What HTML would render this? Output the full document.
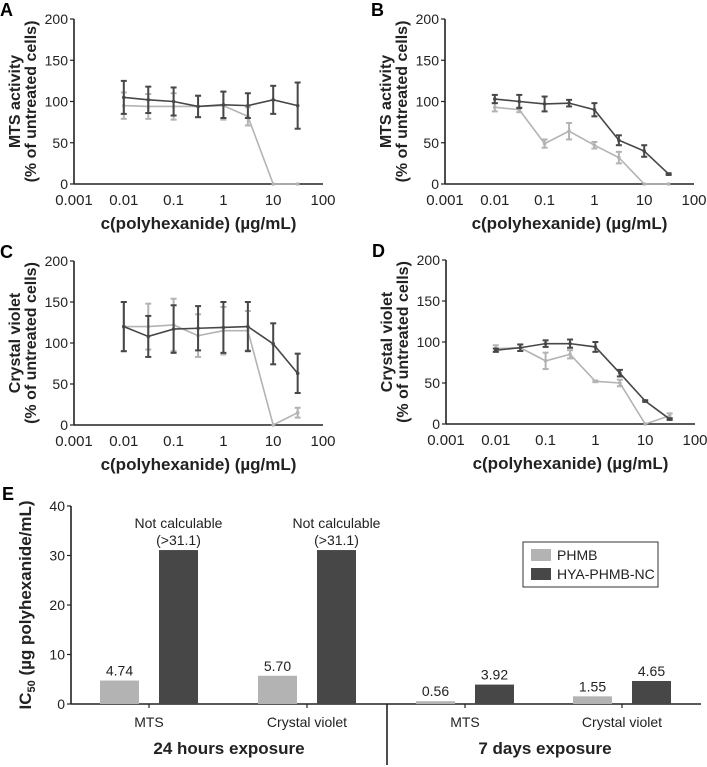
<!DOCTYPE html>
<html><head><meta charset="utf-8"><style>
body{margin:0;background:#fff}
svg{display:block;font-family:"Liberation Sans",Arial,sans-serif}
</style></head><body>
<svg id="fig" width="707" height="767" viewBox="0 0 707 767"></svg>
<script>
const xVals=[0.01,0.031,0.1,0.31,1,3.1,10,31];
const aDark=[105,102,100,94,96,95,102,95];
const aDarkErr=[20,16,17,13,16,15,17,28];
const aLight=[95,94,94,94,95,82,0,0];
const aLightErr=[16,15,16,13,17,11,0,0];
const bDark=[103,100,97,98,90,53,40,12];
const bDarkErr=[5,8,9,4,8,6,7,1];
const bLight=[93,90,49,64,47,32,0,0];
const bLightErr=[5,3,5,10,4,7,0,0];
const cDark=[120,108,117,118,119,120,99,63];
const cDarkErr=[30,25,29,27,31,30,25,24];
const cLight=[120,120,122,109,115,115,0,15];
const cLightErr=[30,28,32,26,29,24,0,6];
const dDark=[90,93,98,98,94,62,28,6];
const dDarkErr=[2,4,4,5,6,4,1,1];
const dLight=[92,93,77,85,52,50,0,10];
const dLightErr=[4,4,10,5,1,4,0,3];
const xTickVals=[0.001,0.01,0.1,1,10,100];
const xTickLabels=["0.001","0.01","0.1","1","10","100"];
const yTicks=[0,50,100,150,200];
const eCategories=["MTS","Crystal violet","MTS","Crystal violet"];
const ePhmb=[4.74,5.70,0.56,1.55];
const eHya=[31.1,31.1,3.92,4.65];
const ePhmbLabels=["4.74","5.70","0.56","1.55"];
const eHyaLabels=["Not calculable|(>31.1)","Not calculable|(>31.1)","3.92","4.65"];
const eTicks=[0,10,20,30,40];

const svg=document.getElementById('fig');
const NS='http://www.w3.org/2000/svg';
const LIGHT='#b3b3b3',DARK='#474747';
function mk(tag,attrs,parent){const e=document.createElementNS(NS,tag);for(const k in attrs)e.setAttribute(k,attrs[k]);(parent||svg).appendChild(e);return e;}
function txt(s,attrs,parent){const e=mk('text',attrs,parent);e.textContent=s;return e;}

function panel(letter,x0,yTop,yBot,title,dark,darkErr,light,lightErr){
  const g=mk('g',{});
  
  
  const x1=x0+249;
  const sx=v=>x0+(Math.log10(v)+3)/5*(x1-x0);
  const sy=v=>yBot-v/200*(yBot-yTop);
  const pl=txt(letter,{x:x0-74,y:yTop-3,'font-size':18,'font-weight':'bold'},g);
  
  
  mk('line',{x1:x0,y1:yTop,x2:x0,y2:yBot,stroke:'#222','stroke-width':1.6},g);
  mk('line',{x1:x0,y1:yBot,x2:x1,y2:yBot,stroke:'#222','stroke-width':1.6},g);
  yTicks.forEach(t=>{
    mk('line',{x1:x0-4,y1:sy(t),x2:x0,y2:sy(t),stroke:'#222','stroke-width':1.2},g);
    const l=txt(String(t),{x:x0-6,y:sy(t)+5,'font-size':14,'text-anchor':'end',fill:'#222'},g);
    
    
  });
  xTickVals.forEach((t,i)=>{
    const l=txt(xTickLabels[i],{x:sx(t),y:yBot+21,'font-size':15,'text-anchor':'middle',fill:'#222'},g);
    
    
  });
  const xt=txt('c(polyhexanide) (µg/mL)',{x:(x0+x1)/2,y:yBot+45,'font-size':17,'font-weight':'bold','text-anchor':'middle',fill:'#222'},g);
  
  
  const cy=(yTop+yBot)/2;
  const yt=mk('text',{transform:`translate(${x0},${cy}) rotate(-90)`,'font-size':16,'font-weight':'bold','text-anchor':'middle',fill:'#222'},g);
  
  
  const t1=mk('tspan',{x:0,y:-54},yt);t1.textContent=title;
  const t2=mk('tspan',{x:0,y:-38},yt);t2.textContent='(% of untreated cells)';
  function series(vals,errs,col,name){
    const sg=mk('g',{},g);
    
    
    mk('polyline',{points:vals.map((v,i)=>sx(xVals[i])+','+sy(v)).join(' '),fill:'none',stroke:col,'stroke-width':1.6},sg);
    vals.forEach((v,i)=>{
      const x=sx(xVals[i]);
      if(errs[i]>0){
        mk('line',{x1:x,y1:sy(v+errs[i]),x2:x,y2:sy(v-errs[i]),stroke:col,'stroke-width':2},sg);
        mk('line',{x1:x-3,y1:sy(v+errs[i]),x2:x+3,y2:sy(v+errs[i]),stroke:col,'stroke-width':2},sg);
        mk('line',{x1:x-3,y1:sy(v-errs[i]),x2:x+3,y2:sy(v-errs[i]),stroke:col,'stroke-width':2},sg);
      }
      mk('circle',{cx:x,cy:sy(v),r:1.8,fill:col},sg);
    });
  }
  series(light,lightErr,LIGHT,'phmb-series');
  series(dark,darkErr,DARK,'hya-phmb-nc-series');
}
panel('A',74,19,184,'MTS activity',aDark,aDarkErr,aLight,aLightErr);
panel('B',445,19,184,'MTS activity',bDark,bDarkErr,bLight,bLightErr);
panel('C',74,261,425,'Crystal violet',cDark,cDarkErr,cLight,cLightErr);
panel('D',446,260,424,'Crystal violet',dDark,dDarkErr,dLight,dLightErr);

// Panel E
(function(){
  const g=mk('g',{});
  
  
  const x0=71,x1=701,yTop=506,yBot=704;
  const sy=v=>yBot-v/40*(yBot-yTop);
  const pl=txt('E',{x:2,y:500,'font-size':18,'font-weight':'bold'},g);
  
  
  mk('line',{x1:x0,y1:yTop,x2:x0,y2:yBot,stroke:'#222','stroke-width':1.6},g);
  mk('line',{x1:x0,y1:yBot,x2:x1,y2:yBot,stroke:'#222','stroke-width':1.6},g);
  mk('line',{x1:387,y1:yBot,x2:387,y2:765,stroke:'#222','stroke-width':1.6},g);
  eTicks.forEach(t=>{
    mk('line',{x1:x0-4,y1:sy(t),x2:x0,y2:sy(t),stroke:'#222','stroke-width':1.2},g);
    const l=txt(String(t),{x:x0-6,y:sy(t)+5,'font-size':14,'text-anchor':'end',fill:'#222'},g);
    
    
  });
  const yt=mk('text',{transform:`translate(31,${(yTop+yBot)/2}) rotate(-90)`,'font-size':17,'font-weight':'bold','text-anchor':'middle',fill:'#222'},g);
  
  
  yt.innerHTML='IC<tspan font-size="11" dy="4">50</tspan><tspan dy="-4"> (µg polyhexanide/mL)</tspan>';
  const centers=[149,307,465,622];
  const bw=39;
  eCategories.forEach((c,i)=>{
    const cx=centers[i];
    mk('line',{x1:cx,y1:yBot,x2:cx,y2:yBot+4,stroke:'#222','stroke-width':1.2},g);
    const cl=txt(c,{x:cx,y:727,'font-size':14,'text-anchor':'middle',fill:'#222'},g);
    
    
    const bx1=cx-49,bx2=cx+10;
    const b1=mk('rect',{x:bx1,y:sy(ePhmb[i]),width:bw,height:yBot-sy(ePhmb[i]),fill:LIGHT},g);
    
    
    const b2=mk('rect',{x:bx2,y:sy(eHya[i]),width:bw,height:yBot-sy(eHya[i]),fill:DARK},g);
    
    
    const l1=txt(ePhmbLabels[i],{x:bx1+bw/2,y:sy(ePhmb[i])-5,'font-size':14,'text-anchor':'middle',fill:'#222'},g);
    
    
    const parts=eHyaLabels[i].split('|');
    parts.forEach((p,k)=>{
      const l2=txt(p,{x:bx2+bw/2,y:sy(eHya[i])-5-(parts.length-1-k)*17,'font-size':14,'text-anchor':'middle',fill:'#222'},g);
      
      
    });
  });
  const g1=txt('24 hours exposure',{x:229,y:754,'font-size':17,'font-weight':'bold','text-anchor':'middle',fill:'#222'},g);
  
  
  const g2=txt('7 days exposure',{x:545,y:754,'font-size':17,'font-weight':'bold','text-anchor':'middle',fill:'#222'},g);
  
  
  const lg=mk('g',{},g);
  
  
  mk('rect',{x:523,y:542,width:135,height:45,fill:'#fff',stroke:'#333','stroke-width':1},lg);
  mk('rect',{x:531,y:549,width:20,height:12,fill:LIGHT},lg);
  mk('rect',{x:531,y:568,width:20,height:12,fill:DARK},lg);
  const le1=txt('PHMB',{x:557,y:560,'font-size':14,fill:'#222'},lg);
  
  
  const le2=txt('HYA-PHMB-NC',{x:557,y:579,'font-size':14,fill:'#222'},lg);
  
  
})();
</script>
</body></html>
